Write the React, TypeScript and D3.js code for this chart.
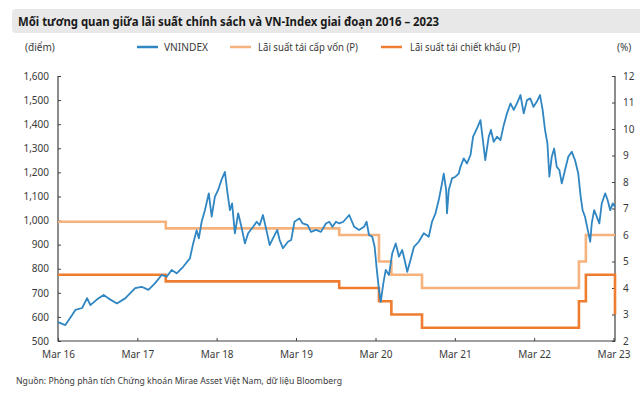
import React, { useRef, useEffect } from 'react';
import * as d3 from 'd3';

const vnDates = [
  '2016-03-01', '2016-04-04', '2016-05-05', '2016-05-20', '2016-06-20', '2016-07-13', '2016-07-28',
  '2016-08-28', '2016-09-27', '2016-10-19', '2016-11-27', '2017-01-04', '2017-02-19', '2017-03-21',
  '2017-04-21', '2017-05-21', '2017-06-21', '2017-07-14', '2017-08-06', '2017-08-29', '2017-09-28',
  '2017-10-29', '2017-11-13', '2017-11-29', '2017-12-09', '2017-12-22', '2018-01-06', '2018-01-24',
  '2018-02-06', '2018-02-21', '2018-03-08', '2018-03-23', '2018-04-08', '2018-04-18', '2018-05-01',
  '2018-05-11', '2018-05-24', '2018-06-08', '2018-06-23', '2018-07-09', '2018-07-24', '2018-08-16',
  '2018-09-01', '2018-09-15', '2018-09-30', '2018-10-16', '2018-10-31', '2018-11-15', '2018-12-05',
  '2018-12-16', '2018-12-31', '2019-01-23', '2019-02-07', '2019-02-22', '2019-03-17', '2019-04-01',
  '2019-04-24', '2019-05-09', '2019-06-01', '2019-06-24', '2019-07-17', '2019-08-01', '2019-08-16',
  '2019-09-01', '2019-09-16', '2019-10-05', '2019-11-01', '2019-11-24', '2019-12-16', '2020-01-08',
  '2020-01-20', '2020-01-31', '2020-02-15', '2020-02-26', '2020-03-07', '2020-03-17', '2020-03-25',
  '2020-04-06', '2020-04-17', '2020-05-02', '2020-05-17', '2020-06-02', '2020-06-17', '2020-07-02',
  '2020-07-13', '2020-07-25', '2020-08-09', '2020-08-25', '2020-09-16', '2020-10-09', '2020-11-01',
  '2020-11-16', '2020-12-02', '2020-12-17', '2021-01-01', '2021-01-09', '2021-01-20', '2021-01-24',
  '2021-02-01', '2021-02-16', '2021-03-04', '2021-03-19', '2021-03-27', '2021-04-11', '2021-04-26',
  '2021-05-12', '2021-05-24', '2021-06-04', '2021-06-14', '2021-06-27', '2021-07-08', '2021-07-19',
  '2021-08-04', '2021-08-14', '2021-08-27', '2021-09-11', '2021-09-27', '2021-10-12', '2021-10-27',
  '2021-11-12', '2021-11-27', '2021-12-12', '2021-12-28', '2022-01-12', '2022-01-27', '2022-02-11',
  '2022-02-26', '2022-03-13', '2022-03-28', '2022-04-09', '2022-04-20', '2022-05-01', '2022-05-10',
  '2022-05-21', '2022-06-01', '2022-06-13', '2022-06-25', '2022-07-06', '2022-07-21', '2022-08-05',
  '2022-08-21', '2022-09-05', '2022-09-20', '2022-10-01', '2022-10-10', '2022-10-21', '2022-11-06',
  '2022-11-14', '2022-11-21', '2022-12-02', '2022-12-14', '2022-12-26', '2023-01-06', '2023-01-22',
  '2023-02-02', '2023-02-14', '2023-02-26', '2023-03-08',
];

const vnIndex = [
  578, 566, 608, 629, 637, 678, 649,
  673, 691, 677, 656, 677, 719, 725,
  712, 739, 774, 767, 795, 781, 808,
  843, 905, 960, 926, 995, 1043, 1113,
  1016, 1099, 1127, 1168, 1202, 1127, 1043,
  1071, 947, 1030, 974, 905, 947, 974,
  995, 981, 1023, 961, 898, 926, 961,
  919, 885, 912, 919, 995, 1009, 988,
  981, 953, 961, 953, 988, 995, 974,
  995, 988, 995, 1023, 974, 961, 974,
  995, 940, 933, 891, 795, 712, 662,
  739, 795, 774, 864, 905, 850, 878,
  836, 787, 836, 891, 912, 947, 933,
  995, 1030, 1085, 1154, 1195, 1127, 1030,
  1127, 1175, 1182, 1195, 1223, 1258, 1237,
  1272, 1348, 1369, 1389, 1417, 1334, 1251,
  1348, 1376, 1327, 1348, 1334, 1396, 1445,
  1486, 1459, 1486, 1521, 1445, 1500, 1507,
  1472, 1493, 1521, 1459, 1376, 1320, 1182,
  1265, 1299, 1223, 1210, 1154, 1210, 1265,
  1286, 1251, 1195, 1099, 1043, 1016, 947,
  912, 988, 1043, 1016, 988, 1071, 1113,
  1085, 1043, 1071, 1057,
];

// policy rate changes (step after)
const rateDates = [
  '2016-03-01', '2017-07-10', '2019-09-16', '2020-03-17', '2020-05-13',
  '2020-10-01', '2022-09-23', '2022-10-25', '2023-03-08',
];
const refinancingRate = [6.5, 6.25, 6.0, 5.0, 4.5, 4.0, 5.0, 6.0, 6.0];
const discountRate = [4.5, 4.25, 4.0, 3.5, 3.0, 2.5, 3.5, 4.5, 3.0];

const leftTicks = [500, 600, 700, 800, 900, 1000, 1100, 1200, 1300, 1400, 1500, 1600];
const rightTicks = [2, 3, 4, 5, 6, 7, 8, 9, 10, 11, 12];
const xTickDates = ['2016-03-01', '2017-03-01', '2018-03-01', '2019-03-01', '2020-03-01', '2021-03-01', '2022-03-01', '2023-03-01'];

const legendItems = [
  { label: 'VNINDEX', color: '#2f86c2', x: 137, textX: 164, w: 44 },
  { label: 'Lãi suất tái cấp vốn (P)', color: '#f6b27c', x: 230, textX: 258, w: 100 },
  { label: 'Lãi suất tái chiết khấu (P)', color: '#ee7d31', x: 381, textX: 410, w: 110 },
];

const FONT = '"Noto Sans", "Open Sans", sans-serif';

export default function App() {
  const leftRef = useRef<SVGGElement | null>(null);
  const rightRef = useRef<SVGGElement | null>(null);
  const bottomRef = useRef<SVGGElement | null>(null);

  const parse = d3.timeParse('%Y-%m-%d');
  const x = d3.scaleTime()
    .domain([parse('2016-03-01') as Date, parse('2023-03-08') as Date])
    .range([58, 615]);
  const yL = d3.scaleLinear().domain([500, 1600]).range([341, 76]);
  const yR = d3.scaleLinear().domain([2, 12]).range([341, 76]);

  const vnData = vnDates.map((d, i) => ({ date: parse(d) as Date, v: vnIndex[i] }));
  const refi = rateDates.map((d, i) => ({ date: parse(d) as Date, v: refinancingRate[i] }));
  const disc = rateDates.map((d, i) => ({ date: parse(d) as Date, v: discountRate[i] }));

  const vnLine = d3.line<{ date: Date; v: number }>()
    .x(d => x(d.date))
    .y(d => yL(d.v));
  const rateLine = d3.line<{ date: Date; v: number }>()
    .x(d => x(d.date))
    .y(d => yR(d.v))
    .curve(d3.curveStepAfter);

  useEffect(() => {
    const styleAxis = (g: d3.Selection<SVGGElement, unknown, null, undefined>) => {
      g.selectAll('path').attr('stroke', '#404040').attr('stroke-width', 1.2);
      g.selectAll('line').attr('stroke', '#404040');
      g.selectAll('text')
        .attr('fill', '#3a3a3a')
        .style('font-family', FONT)
        .style('font-size', '10px');
    };

    const left = d3.select(leftRef.current as SVGGElement);
    left.selectAll('*').remove();
    left.call(
      d3.axisLeft(yL)
        .tickValues(leftTicks)
        .tickFormat(d3.format(','))
        .tickSizeInner(-3)
        .tickSizeOuter(0)
        .tickPadding(9)
    );
    left.select('.domain').remove();
    styleAxis(left);

    const right = d3.select(rightRef.current as SVGGElement);
    right.selectAll('*').remove();
    right.call(
      d3.axisRight(yR)
        .tickValues(rightTicks)
        .tickSizeInner(-3)
        .tickSizeOuter(0)
        .tickPadding(8)
    );
    right.select('.domain').remove();
    styleAxis(right);

    const bottom = d3.select(bottomRef.current as SVGGElement);
    bottom.selectAll('*').remove();
    bottom.call(
      d3.axisBottom(x)
        .tickValues(xTickDates.map(d => parse(d) as Date))
        .tickFormat(d => d3.timeFormat('%b %y')(d as Date))
        .tickSizeInner(-3)
        .tickSizeOuter(0)
        .tickPadding(10)
    );
    bottom.select('.domain').remove();
    styleAxis(bottom);
  }, []);

  return (
    <svg width={640} height={393} style={{ position: 'absolute', left: 0, top: 0, background: '#fff' }}>
      <rect x={12} y={9} width={640} height={24} rx={4} fill="#e8e8e8" />
      <text x={18} y={25.5} fontFamily={FONT} fontWeight="bold" fontSize={12.5} fill="#1a1a1a"
        textLength={421} lengthAdjust="spacingAndGlyphs">
        Mối tương quan giữa lãi suất chính sách và VN-Index giai đoạn 2016 – 2023
      </text>

      <text x={25} y={50.5} fontFamily={FONT} fontSize={10} fill="#3a3a3a">(điểm)</text>
      <text x={617} y={50.5} fontFamily={FONT} fontSize={10} fill="#3a3a3a">(%)</text>
      {legendItems.map(it => (
        <g key={it.label}>
          <line x1={it.x} x2={it.x + 21} y1={47} y2={47} stroke={it.color} strokeWidth={2.5} />
          <text x={it.textX} y={50.5} fontFamily={FONT} fontSize={10} fill="#3a3a3a"
            textLength={it.w} lengthAdjust="spacingAndGlyphs">{it.label}</text>
        </g>
      ))}

      {/* axis frame */}
      <path d="M58,76V341H615V76" fill="none" stroke="#404040" strokeWidth={1.2} />
      <g ref={leftRef} transform="translate(58,0)" />
      <g ref={rightRef} transform="translate(615,0)" />
      <g ref={bottomRef} transform="translate(0,341)" />

      <path d={rateLine(refi) || ''} fill="none" stroke="#f6b27c" strokeWidth={2.6} />
      <path d={rateLine(disc) || ''} fill="none" stroke="#ee7d31" strokeWidth={2.6} />
      <path d={vnLine(vnData) || ''} fill="none" stroke="#2f86c2" strokeWidth={1.8} strokeLinejoin="round" />

      <text x={16} y={383.5} fontFamily={FONT} fontSize={9} fill="#3a3a3a"
        textLength={326} lengthAdjust="spacingAndGlyphs">
        Nguồn: Phòng phân tích Chứng khoán Mirae Asset Việt Nam, dữ liệu Bloomberg
      </text>
    </svg>
  );
}
